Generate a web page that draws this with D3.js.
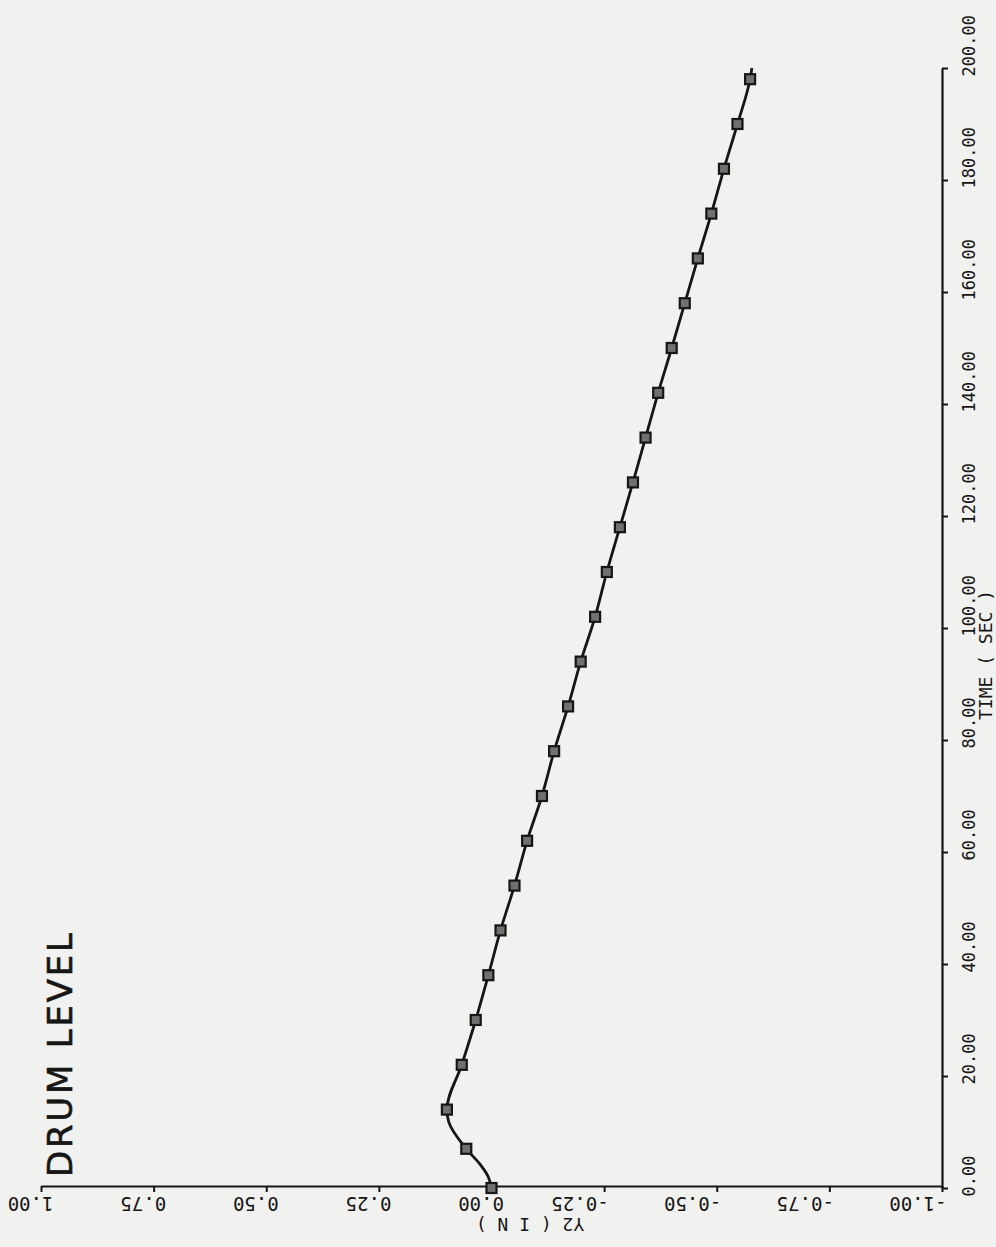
<!DOCTYPE html>
<head>
    <title>Drum level</title>
</head>
<meta charset="utf-8">

<script src="https://d3js.org/d3.v7.min.js"></script>

<style>
  body { margin: 0; background: #f1f1f0; }
  svg { display: block; }
</style>

<body>
<div id="my_dataviz"></div>
<script>

// curve (time in sec, level in inches)
var traceTime  = [0, 2.3, 4.1, 7, 11.8, 14, 22, 30, 38, 46, 54, 62, 70, 78, 86, 94, 102, 110,
                  118, 126, 134, 142, 150, 158, 166, 174, 182, 190, 198, 200];
var traceLevel = [0, 0.009, 0.024, 0.056, 0.095, 0.099, 0.066, 0.035, 0.007, -0.020, -0.051,
                  -0.079, -0.112, -0.139, -0.170, -0.198, -0.230, -0.256, -0.285, -0.314, -0.342, -0.370,
                  -0.400, -0.429, -0.458, -0.488, -0.516, -0.546, -0.574, -0.578];

// plotted symbols
var markTime  = [0, 7, 14, 22, 30, 38, 46, 54, 62, 70, 78, 86, 94, 102, 110, 118, 126, 134, 142, 150,
                 158, 166, 174, 182, 190, 198];
var markLevel = [0, 0.056, 0.099, 0.066, 0.035, 0.007, -0.020, -0.051, -0.079, -0.112, -0.139, -0.170,
                 -0.198, -0.230, -0.256, -0.285, -0.314, -0.342, -0.370, -0.400, -0.429, -0.458, -0.488,
                 -0.516, -0.546, -0.574];

var timeTicks  = [0, 20, 40, 60, 80, 100, 120, 140, 160, 180, 200];
var levelTicks = [1, 0.75, 0.5, 0.25, 0, -0.25, -0.5, -0.75, -1];

var title = "DRUM LEVEL";
var timeLabel = "TIME ( SEC )";
var levelLabel = "Y2 ( I N )";

var width = 996, height = 1247;
var ink = "#161616";

var svg = d3.select("#my_dataviz")
  .append("svg")
    .attr("width", width)
    .attr("height", height);

svg.append("rect")
    .attr("width", width)
    .attr("height", height)
    .attr("fill", "#f1f1f0");

// the page is turned: time runs up the right side, level runs along the bottom
var t = d3.scaleLinear().domain([0, 200]).range([1188, 68]);
var lv = d3.scaleLinear().domain([1, -1]).range([41, 942]);

var axisX = 942, axisY = 1186;
var fmt = function(d) { return d3.format(".2f")(d).replace("\u2212", "-"); };

// time axis
var tAxis = svg.append("g")
    .attr("transform", "translate(" + axisX + ",0)")
    .call(d3.axisRight(t).tickValues(timeTicks).tickSize(6).tickSizeOuter(0).tickFormat(fmt));
tAxis.select(".domain").attr("stroke", ink).attr("stroke-width", 2.2);
tAxis.selectAll(".tick line").attr("stroke", ink).attr("stroke-width", 2);
tAxis.selectAll(".tick text")
    .attr("x", 0).attr("y", 0).attr("dy", 0)
    .attr("transform", "translate(33,8) rotate(-90)")
    .style("text-anchor", "start")
    .style("font-family", "DejaVu Sans Mono")
    .style("font-size", "17px")
    .attr("fill", ink);

// level axis
var lAxis = svg.append("g")
    .attr("transform", "translate(0," + axisY + ")")
    .call(d3.axisBottom(lv).tickValues(levelTicks).tickSize(6).tickSizeOuter(0).tickFormat(fmt));
lAxis.select(".domain").attr("stroke", ink).attr("stroke-width", 2.2);
lAxis.selectAll(".tick line").attr("stroke", ink).attr("stroke-width", 2);
lAxis.selectAll(".tick text")
    .attr("x", 0).attr("y", 0).attr("dy", 0)
    .attr("transform", function(d) { return "translate(" + (d < 0 ? 4 : 12) + ",11) rotate(180)"; })
    .style("text-anchor", "start")
    .style("font-family", "DejaVu Sans Mono")
    .style("font-size", "19px")
    .attr("fill", ink);

// axis titles
svg.append("text")
    .attr("transform", "translate(992,655) rotate(-90)")
    .style("text-anchor", "middle")
    .style("font-family", "DejaVu Sans Mono")
    .style("font-size", "18px")
    .attr("fill", ink)
    .text(timeLabel);

svg.append("text")
    .attr("transform", "translate(530,1218) rotate(180)")
    .style("text-anchor", "middle")
    .style("font-family", "DejaVu Sans Mono")
    .style("font-size", "18px")
    .attr("fill", ink)
    .text(levelLabel);

svg.append("text")
    .attr("transform", "translate(72,1177) rotate(-90)")
    .style("text-anchor", "start")
    .style("font-family", "DejaVu Sans")
    .style("font-size", "34px")
    .style("stroke", ink)
    .style("stroke-width", 0.6)
    .attr("textLength", 244)
    .attr("lengthAdjust", "spacing")
    .attr("fill", ink)
    .text(title);

// curve
var trace = traceTime.map(function(d, i) { return [d, traceLevel[i]]; });
svg.append("path")
    .datum(trace)
    .attr("d", d3.line()
      .x(function(d) { return lv(d[1]); })
      .y(function(d) { return t(d[0]); })
      .curve(d3.curveMonotoneY))
    .attr("fill", "none")
    .attr("stroke", ink)
    .attr("stroke-width", 2.8);

// symbols
var marks = markTime.map(function(d, i) { return [d, markLevel[i]]; });
svg.selectAll("mySymbol")
  .data(marks)
  .enter()
  .append("rect")
    .attr("x", function(d) { return lv(d[1]) - 5; })
    .attr("y", function(d) { return t(d[0]) - 5; })
    .attr("width", 10)
    .attr("height", 10)
    .attr("fill", "#707070")
    .attr("stroke", ink)
    .attr("stroke-width", 2.2);

</script>
</body>
